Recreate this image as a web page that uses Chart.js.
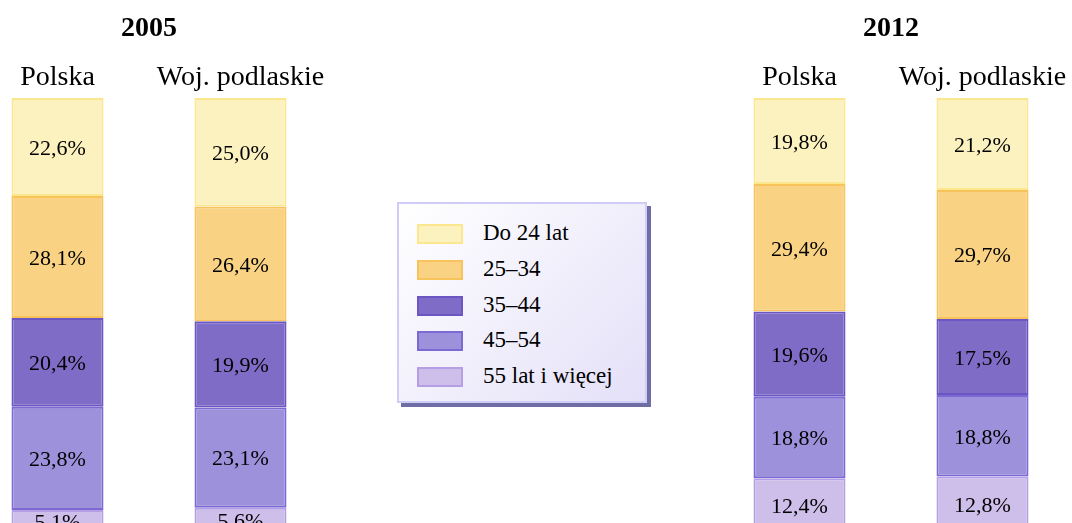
<!DOCTYPE html>
<html lang="pl">
<head>
<meta charset="UTF-8">
<title>Struktura wieku</title>
<script src="https://cdn.jsdelivr.net/npm/chart.js@4.4.1/dist/chart.umd.min.js"></script>
<style>
    html, body { margin: 0; padding: 0; overflow: hidden; background: #fff; }
    body { width: 1072px; height: 523px; position: relative; font-family: "Liberation Serif", "Times New Roman", serif; }
    canvas { position: absolute; top: 0; }
    #legend {
        position: absolute; left: 397px; top: 202px; width: 246px; height: 197px;
        border: 2px solid #cfcdf5;
        background: linear-gradient(135deg, #ffffff 0%, #e4e0f8 100%);
        box-shadow: 4px 4px 0 #6f6da6;
    }
    .item { position: absolute; left: 18px; height: 24px; font-size: 23px; line-height: 24px; color: #000; white-space: nowrap; }
    .item span.sw { position: absolute; left: 0; top: 1px; width: 42px; height: 16px; border: 2px solid; }
    .item span.tx { position: absolute; left: 66px; top: -2px; }
</style>
</head>
<body>

<canvas id="c2005" width="366" height="523" style="left:-34px"></canvas>
<canvas id="c2012" width="366" height="523" style="left:708px"></canvas>
<div id="legend"></div>

<script>
    var categories = ["Polska", "Woj. podlaskie"];
    var ageGroups = ["Do 24 lat", "25–34", "35–44", "45–54", "55 lat i więcej"];

    // 2005: [Polska, Woj. podlaskie]
    var y2005_do24 = [22.6, 25.0];
    var y2005_25_34 = [28.1, 26.4];
    var y2005_35_44 = [20.4, 19.9];
    var y2005_45_54 = [23.8, 23.1];
    var y2005_55 = [5.1, 5.6];

    // 2012
    var y2012_do24 = [19.8, 21.2];
    var y2012_25_34 = [29.4, 29.7];
    var y2012_35_44 = [19.6, 17.5];
    var y2012_45_54 = [18.8, 18.8];
    var y2012_55 = [12.4, 12.8];

    var fills = ["#fcf2c0", "#f9d283", "#7f6cc6", "#9e91dc", "#cdbeea"];
    var borders = ["#fce68e", "#f9c35c", "#6b56c4", "#7d69d4", "#b49fe6"];

    // wartosci na srodku segmentow
    var segLabels = {
        id: "segLabels",
        afterDatasetsDraw: function (chart) {
            var ctx = chart.ctx;
            ctx.save();
            ctx.font = "22px 'Liberation Serif'";
            ctx.fillStyle = "#000";
            ctx.textAlign = "center";
            ctx.textBaseline = "middle";
            chart.data.datasets.forEach(function (ds, i) {
                chart.getDatasetMeta(i).data.forEach(function (bar, j) {
                    var p = bar.getProps(["x", "y", "base"], true);
                    var txt = ds.data[j].toFixed(1).replace(".", ",") + "%";
                    ctx.fillText(txt, p.x, (p.y + p.base) / 2 + 2);
                });
            });
            ctx.restore();
        }
    };

    function makeChart(id, title, sets) {
        var datasets = [];
        for (var i = 0; i < ageGroups.length; i++) {
            datasets.push({
                label: ageGroups[i],
                data: sets[i],
                backgroundColor: fills[i],
                borderColor: borders[i],
                borderWidth: 2,
                borderSkipped: false,
                barPercentage: 1,
                categoryPercentage: 0.503
            });
        }
        return new Chart(document.getElementById(id), {
            type: "bar",
            data: { labels: categories, datasets: datasets },
            options: {
                responsive: false,
                animation: false,
                devicePixelRatio: 1,
                layout: { padding: 0 },
                plugins: {
                    legend: { display: false },
                    tooltip: { enabled: false },
                    title: {
                        display: true,
                        text: title,
                        color: "#000",
                        font: { family: "'Liberation Serif'", size: 28, weight: "bold" },
                        padding: { top: 12, bottom: 0 }
                    }
                },
                scales: {
                    x: {
                        position: "top",
                        stacked: true,
                        grid: { display: false, drawTicks: false },
                        border: { display: false },
                        ticks: {
                            color: "#000",
                            padding: 4,
                            font: { family: "'Liberation Serif'", size: 28 }
                        },
                        afterFit: function (scale) { scale.height = 52.4; }
                    },
                    y: {
                        stacked: true,
                        reverse: true,
                        min: 0,
                        max: 97.9,
                        display: false
                    }
                }
            },
            plugins: [segLabels]
        });
    }

    makeChart("c2005", "2005", [y2005_do24, y2005_25_34, y2005_35_44, y2005_45_54, y2005_55]);
    makeChart("c2012", "2012", [y2012_do24, y2012_25_34, y2012_35_44, y2012_45_54, y2012_55]);

    // legenda
    var legend = document.getElementById("legend");
    for (var k = 0; k < ageGroups.length; k++) {
        var row = document.createElement("div");
        row.className = "item";
        row.style.top = (19 + k * 35.8) + "px";
        row.innerHTML = '<span class="sw" style="background:' + fills[k] + ';border-color:' + borders[k] + '"></span>' +
            '<span class="tx">' + ageGroups[k] + '</span>';
        legend.appendChild(row);
    }
</script>

</body>
</html>
